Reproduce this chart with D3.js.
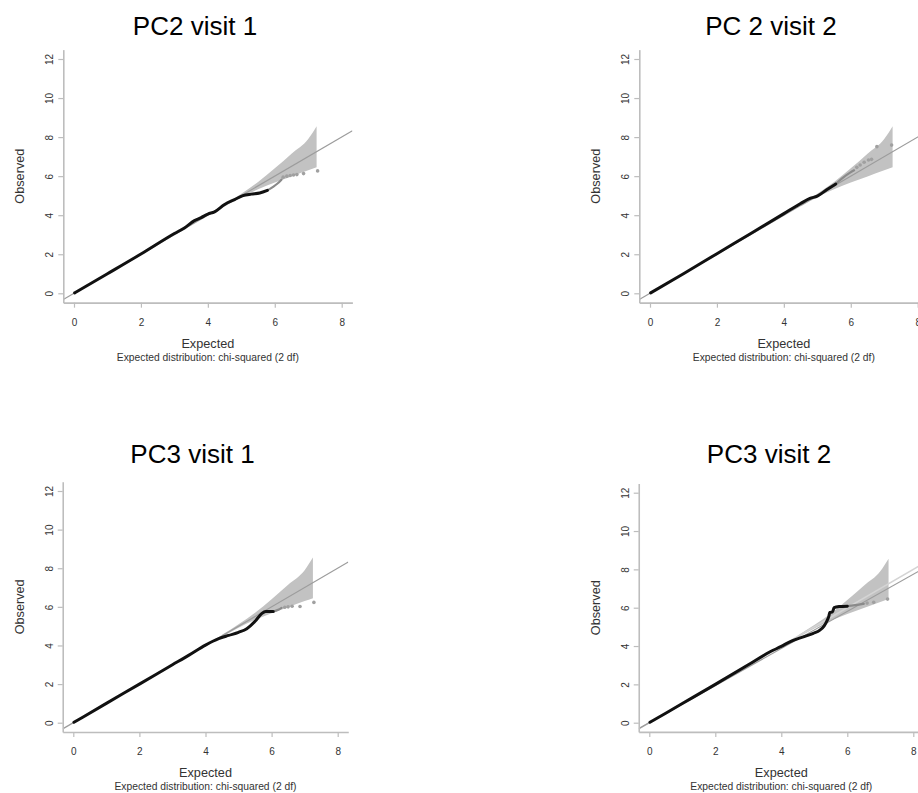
<!DOCTYPE html>
<html>
<head>
<meta charset="utf-8">
<script src="https://cdn.jsdelivr.net/npm/d3@7"></script>
<style>
body { margin: 0; background: #fff; }
text { font-family: "Liberation Sans", Arial, Helvetica, sans-serif; }
</style>
</head>
<body>
<svg id="chart" width="918" height="793"></svg>
<script>
var titles = ["PC2 visit 1", "PC 2 visit 2", "PC3 visit 1", "PC3 visit 2"];
var xTicks = [0, 2, 4, 6, 8];
var yTicks = [0, 2, 4, 6, 8, 10, 12];
var xLabel = "Expected";
var yLabel = "Observed";
var subLabel = "Expected distribution: chi-squared (2 df)";

// confidence band (expected, upper, lower)
var bandX     = [4.5, 5.0, 5.5, 6.0, 6.5, 7.0, 7.25];
var bandUpper = [4.55, 5.1, 5.7, 6.4, 7.15, 7.9, 8.55];
var bandLower = [4.45, 4.92, 5.33, 5.67, 5.98, 6.3, 6.45];

// [expected, observed]
var pc2v1Dense  = [[0.02,0.02],[1,1],[2,2.01],[3,3.06],[3.3,3.35],[3.6,3.72],[3.8,3.88],[4.0,4.06],[4.2,4.17],[4.5,4.55],[4.8,4.8],[5.05,5.0],[5.3,5.08],[5.55,5.14],[5.78,5.27]];
var pc2v1Sparse = [[5.78,5.27],[5.95,5.45],[6.1,5.65],[6.2,5.82]];
var pc2v1Tail   = [[6.25,5.95],[6.36,6.0],[6.46,6.03],[6.56,6.06],[6.66,6.08],[6.86,6.13],[7.28,6.27]];

var pc2v2Dense  = [[0.02,0.02],[1,1],[2,2.03],[3,3.05],[4,4.08],[4.5,4.6],[4.78,4.86],[5.0,4.98],[5.28,5.3],[5.55,5.6]];
var pc2v2Sparse = [[5.55,5.6],[5.75,5.9],[5.98,6.18],[6.1,6.3]];
var pc2v2Tail   = [[6.18,6.45],[6.28,6.57],[6.4,6.71],[6.53,6.83],[6.62,6.86],[6.78,7.51],[7.22,7.59]];

var pc3v1Dense  = [[0.02,0.02],[1,1],[2,2.0],[3,3.0],[3.5,3.5],[4.0,4.02],[4.4,4.35],[4.7,4.52],[5.0,4.68],[5.25,4.87],[5.5,5.25],[5.7,5.65],[5.82,5.76],[6.05,5.76]];
var pc3v1Sparse = [[6.05,5.76],[6.2,5.85],[6.3,5.95]];
var pc3v1Tail   = [[6.4,5.98],[6.5,6.0],[6.62,6.03],[6.86,6.02],[7.28,6.23]];

var pc3v2Dense  = [[0.02,0.02],[1,1],[2,2.0],[3,3.02],[3.66,3.7],[4.0,3.98],[4.26,4.22],[4.67,4.48],[4.97,4.66],[5.17,4.83],[5.3,5.05],[5.38,5.3],[5.44,5.55],[5.47,5.75],[5.55,5.78],[5.6,6.0],[5.75,6.06],[6.0,6.08]];
var pc3v2Sparse = [[6.0,6.08],[6.3,6.15],[6.5,6.2]];
var pc3v2Tail   = [[6.6,6.24],[6.8,6.28],[7.22,6.45]];

// reference lines (slopes); the last panel shows two
var refSlopes = [[1], [1], [1], [1, 0.968]];

var dense  = [pc2v1Dense, pc2v2Dense, pc3v1Dense, pc3v2Dense];
var sparse = [pc2v1Sparse, pc2v2Sparse, pc3v1Sparse, pc3v2Sparse];
var tails  = [pc2v1Tail, pc2v2Tail, pc3v1Tail, pc3v2Tail];

// pixel positions of x=0, x=8, y=0, y=12 for each panel
var layout = [
    {x0: 74,    x8: 341.7, y0: 293.3, y12: 59,    titleX: 195,   titleY: 35},
    {x0: 650,   x8: 917.7, y0: 293.3, y12: 59,    titleX: 771,   titleY: 35},
    {x0: 73.3,  x8: 337.7, y0: 722.7, y12: 491,   titleX: 192.5, titleY: 463},
    {x0: 649.3, x8: 913.3, y0: 722.7, y12: 492.7, titleX: 769,   titleY: 463}
];

var svg = d3.select("#chart");
var AXIS_COLOR = "#bdbdbd";

function drawPanel(i) {
    var L = layout[i];
    var sx = d3.scaleLinear().domain([0, 8]).range([L.x0, L.x8]);
    var sy = d3.scaleLinear().domain([0, 12]).range([L.y0, L.y12]);
    var left = sx(-0.32), right = sx(8.32), top = sy(12.48), bottom = sy(-0.48);
    var x = d3.scaleLinear().domain([-0.32, 8.32]).range([left, right]);
    var y = d3.scaleLinear().domain([-0.48, 12.48]).range([bottom, top]);

    var g = svg.append("g").attr("id", "panel_" + i);

    g.append("clipPath").attr("id", "clip_" + i)
        .append("rect")
        .attr("x", left).attr("y", top)
        .attr("width", right - left).attr("height", bottom - top);

    var plot = g.append("g").attr("clip-path", "url(#clip_" + i + ")");

    // band
    var band = bandX.map(function (v, k) { return [v, bandUpper[k], bandLower[k]]; });
    plot.append("path")
        .datum(band)
        .attr("fill", "#c2c2c2")
        .attr("d", d3.area()
            .x(function (d) { return x(d[0]); })
            .y0(function (d) { return y(d[2]); })
            .y1(function (d) { return y(d[1]); })
            .curve(d3.curveMonotoneX));

    // reference lines
    refSlopes[i].forEach(function (s, k) {
        plot.append("line")
            .attr("x1", x(-0.32)).attr("y1", y(-0.32 * s))
            .attr("x2", x(8.32)).attr("y2", y(8.32 * s))
            .attr("stroke", refSlopes[i].length > 1 && k == 0 ? "#d4d4d4" : "#9c9c9c")
            .attr("stroke-width", refSlopes[i].length > 1 && k == 0 ? 1.6 : 1.2);
    });

    var line = d3.line()
        .x(function (d) { return x(d[0]); })
        .y(function (d) { return y(d[1]); })
        .curve(d3.curveMonotoneX);

    plot.append("path")
        .datum(sparse[i])
        .attr("fill", "none")
        .attr("stroke", "#8a8a8a")
        .attr("stroke-width", 2.2)
        .attr("stroke-linecap", "round")
        .attr("d", line);

    plot.append("path")
        .datum(dense[i])
        .attr("fill", "none")
        .attr("stroke", "#111")
        .attr("stroke-width", 3)
        .attr("stroke-linecap", "round")
        .attr("stroke-linejoin", "round")
        .attr("d", line);

    plot.selectAll(".tail")
        .data(tails[i])
        .enter()
        .append("circle")
        .attr("class", "tail")
        .attr("cx", function (d) { return x(d[0]); })
        .attr("cy", function (d) { return y(d[1]); })
        .attr("r", 1.8)
        .attr("fill", "#a0a0a0");

    // axes
    var xa = g.append("g")
        .attr("transform", "translate(0," + bottom + ")")
        .call(d3.axisBottom(x).tickValues(xTicks).tickSize(5).tickSizeOuter(0).tickPadding(11));
    var ya = g.append("g")
        .attr("transform", "translate(" + left + ",0)")
        .call(d3.axisLeft(y).tickValues(yTicks).tickSize(5).tickSizeOuter(0));

    [xa, ya].forEach(function (a) {
        a.select(".domain").attr("stroke", AXIS_COLOR).attr("stroke-width", 1.6);
        a.selectAll(".tick line").attr("stroke", AXIS_COLOR).attr("stroke-width", 1.2);
        a.selectAll(".tick text")
            .attr("fill", "#333")
            .style("font-size", "10px")
            .style("font-family", "\"Liberation Sans\", Arial, sans-serif");
    });
    ya.selectAll(".tick text")
        .attr("x", 0).attr("y", -10).attr("dy", 0)
        .attr("text-anchor", "middle")
        .attr("transform", "rotate(-90)");

    // labels
    var cx = (left + right) / 2;
    g.append("text")
        .attr("x", L.titleX).attr("y", L.titleY)
        .attr("text-anchor", "middle")
        .style("font-size", "26px")
        .attr("fill", "#000")
        .text(titles[i]);
    g.append("text")
        .attr("x", cx).attr("y", bottom + 45)
        .attr("text-anchor", "middle")
        .style("font-size", "12.7px")
        .attr("fill", "#333")
        .text(xLabel);
    g.append("text")
        .attr("x", cx).attr("y", bottom + 58)
        .attr("text-anchor", "middle")
        .style("font-size", "10.3px")
        .attr("fill", "#333")
        .text(subLabel);
    g.append("text")
        .attr("transform", "translate(" + (left - 39) + "," + ((top + bottom) / 2) + ") rotate(-90)")
        .attr("text-anchor", "middle")
        .style("font-size", "12.7px")
        .attr("fill", "#333")
        .text(yLabel);
}

for (var i = 0; i < titles.length; i++) drawPanel(i);
</script>
</body>
</html>
